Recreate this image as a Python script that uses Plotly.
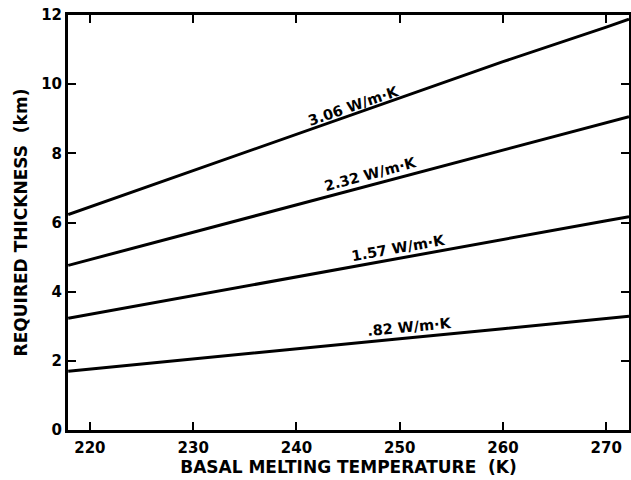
import plotly.graph_objects as go

# Basal melting temperature (K)
temps = [217.9, 230, 240, 250, 260, 270, 272.2]
# Required thickness (km) per thermal conductivity
k306 = [6.23, 7.5, 8.55, 9.6, 10.65, 11.65, 11.88]
k232 = [4.76, 5.72, 6.51, 7.30, 8.10, 8.89, 9.06]
k157 = [3.23, 3.88, 4.42, 4.96, 5.50, 6.05, 6.17]
k082 = [1.70, 2.06, 2.35, 2.64, 2.93, 3.23, 3.29]

series = [k306, k232, k157, k082]
labels = ["3.06 W/m·K", "2.32 W/m·K", "1.57 W/m·K", ".82 W/m·K"]
label_x = [245.5, 247.2, 249.9, 250.9]
label_y = [9.38, 7.40, 5.25, 2.98]
label_angle = [-19, -15, -10, -5.5]

xticks = [220, 230, 240, 250, 260, 270]
yticks = [0, 2, 4, 6, 8, 10, 12]

FONT = "DejaVu Sans"

fig = go.Figure()
for s in series:
    fig.add_trace(go.Scatter(x=temps, y=s, mode="lines",
                             line=dict(color="black", width=3),
                             showlegend=False, hoverinfo="skip"))

for t, x, y, a in zip(labels, label_x, label_y, label_angle):
    fig.add_annotation(x=x, y=y, text="<b>" + t + "</b>", showarrow=False,
                       textangle=a, font=dict(size=14.5, color="black", family=FONT))

fig.update_xaxes(range=[217.88, 272.2], tickvals=xticks,
                 ticktext=["<b>%d</b>" % v for v in xticks],
                 ticks="inside", ticklen=8, tickwidth=2, tickcolor="black",
                 showline=True, linewidth=3, linecolor="black", mirror="allticks",
                 showgrid=False, zeroline=False, ticklabelstandoff=2,
                 tickfont=dict(size=15, color="black", family=FONT),
                 title=dict(text="<b>BASAL MELTING TEMPERATURE  (K)</b>",
                            font=dict(size=17, color="black", family=FONT),
                            standoff=2))
fig.update_yaxes(range=[0, 12], tickvals=yticks,
                 ticktext=["<b>%d</b>" % v for v in yticks],
                 ticks="inside", ticklen=8, tickwidth=2, tickcolor="black",
                 showline=True, linewidth=3, linecolor="black", mirror="allticks",
                 showgrid=False, zeroline=False,
                 tickfont=dict(size=15, color="black", family=FONT),
                 title=dict(text="<b>REQUIRED THICKNESS  (km)</b>",
                            font=dict(size=17, color="black", family=FONT),
                            standoff=10))

fig.update_layout(width=631, height=480,
                  margin=dict(l=68, r=2, t=15, b=50, autoexpand=False),
                  plot_bgcolor="white", paper_bgcolor="white")

fig.write_html("out.html", config={"displayModeBar": False},
               post_script="document.body.style.margin='0';")
